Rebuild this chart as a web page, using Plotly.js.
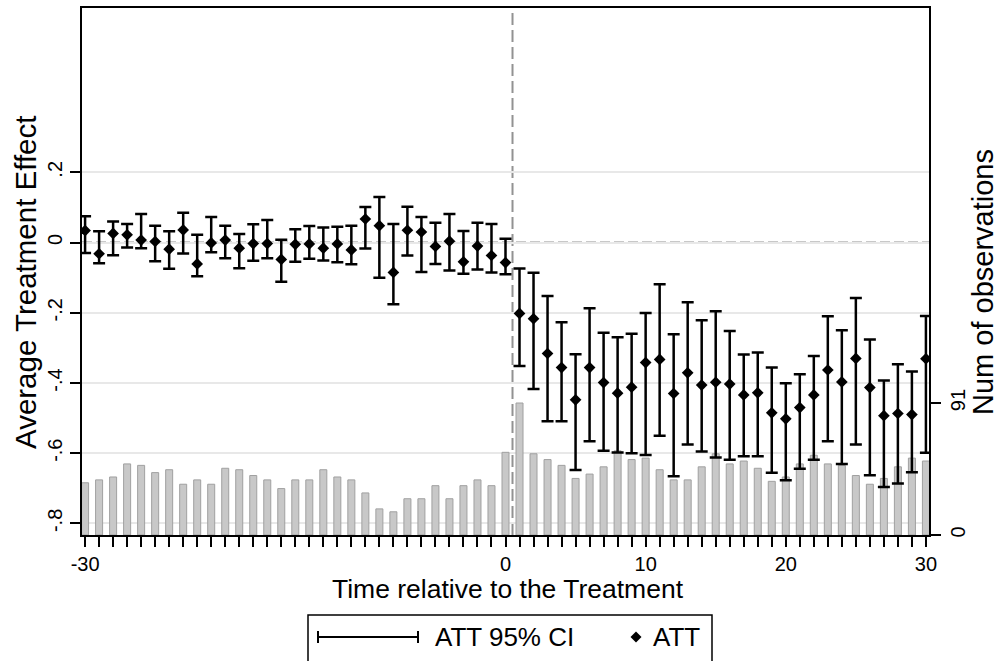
<!DOCTYPE html>
<html>
<head>
<meta charset="utf-8">
<script src="https://cdn.plot.ly/plotly-3.0.1.min.js"></script>
<style>html,body{margin:0;padding:0;background:#fff;}#chart{width:1000px;height:661px;}</style>
</head>
<body>
<div id="chart"></div>
<script>
// Time relative to the treatment
var periods = [-30,-29,-28,-27,-26,-25,-24,-23,-22,-21,-20,-19,-18,-17,-16,-15,-14,-13,-12,-11,-10,-9,-8,-7,-6,-5,-4,-3,-2,-1,0,1,2,3,4,5,6,7,8,9,10,11,12,13,14,15,16,17,18,19,20,21,22,23,24,25,26,27,28,29,30];
// Average treatment effect (point estimate)
var att = [0.034,-0.032,0.026,0.022,0.007,0.003,-0.019,0.036,-0.061,-0.001,0.007,-0.016,-0.003,-0.003,-0.048,-0.005,-0.004,-0.016,-0.004,-0.021,0.067,0.048,-0.085,0.035,0.030,-0.011,0.004,-0.055,-0.010,-0.037,-0.057,-0.202,-0.217,-0.316,-0.356,-0.448,-0.356,-0.399,-0.429,-0.412,-0.342,-0.333,-0.430,-0.371,-0.406,-0.398,-0.403,-0.434,-0.428,-0.485,-0.502,-0.470,-0.434,-0.363,-0.397,-0.330,-0.413,-0.493,-0.487,-0.490,-0.331];
// Upper bound of 95% CI
var ciHigh = [0.075,0.032,0.060,0.053,0.081,0.048,0.032,0.085,0.022,0.073,0.048,0.024,0.052,0.064,0.008,0.038,0.047,0.043,0.045,0.048,0.101,0.130,0.053,0.102,0.073,0.056,0.081,0.033,0.056,0.053,0.011,-0.074,-0.086,-0.152,-0.227,-0.318,-0.187,-0.257,-0.270,-0.260,-0.201,-0.119,-0.261,-0.170,-0.221,-0.196,-0.252,-0.319,-0.313,-0.356,-0.401,-0.375,-0.323,-0.210,-0.250,-0.158,-0.276,-0.393,-0.347,-0.367,-0.209];
// Lower bound of 95% CI
var ciLow = [-0.030,-0.059,-0.036,-0.014,-0.016,-0.053,-0.075,-0.031,-0.096,-0.028,-0.045,-0.073,-0.052,-0.045,-0.112,-0.055,-0.046,-0.051,-0.056,-0.062,-0.017,-0.100,-0.176,-0.037,-0.084,-0.061,-0.080,-0.089,-0.077,-0.085,-0.090,-0.352,-0.417,-0.509,-0.509,-0.648,-0.566,-0.593,-0.598,-0.600,-0.605,-0.550,-0.666,-0.575,-0.595,-0.612,-0.619,-0.609,-0.609,-0.656,-0.677,-0.644,-0.619,-0.566,-0.631,-0.575,-0.663,-0.696,-0.686,-0.654,-0.599];
// Number of observations
var nObs = [36,38,40,49,48,43,45,35,38,35,46,45,41,38,32,38,38,45,40,38,29,18,16,25,25,34,25,34,38,34,57,91,56,52,48,39,42,47,58,52,53,45,38,38,47,56,49,51,46,37,40,49,55,49,48,41,35,39,47,53,51];

// Tick labels
var xTickVals = [-30,-29,-28,-27,-26,-25,-24,-23,-22,-21,-20,-19,-18,-17,-16,-15,-14,-13,-12,-11,-10,-9,-8,-7,-6,-5,-4,-3,-2,-1,0,1,2,3,4,5,6,7,8,9,10,11,12,13,14,15,16,17,18,19,20,21,22,23,24,25,26,27,28,29,30];
var xTickText = ["-30","","","","","","","","","","","","","","","","","","","","","","","","","","","","","","0","","","","","","","","","","10","","","","","","","","","","20","","","","","","","","","","30"];
var yTickVals = [-0.8,-0.6,-0.4,-0.2,0,0.2];
var yTickText = ["-.8","-.6","-.4","-.2","0",".2"];
var y2TickVals = [0,91];
var y2TickText = ["0","91"];

var errPlus = att.map(function(v,i){return ciHigh[i]-v;});
var errMinus = att.map(function(v,i){return v-ciLow[i];});

var FONT = "Liberation Sans, Arial, sans-serif";

var traces = [
  {
    type: 'bar', x: periods, y: nObs, yaxis: 'y', width: 0.5,
    marker: {color: '#c8c8c8', line: {color: '#a0a0a0', width: 1}},
    showlegend: false, hoverinfo: 'x+y'
  },
  {
    type: 'scatter', mode: 'markers', x: periods, y: att, yaxis: 'y2',
    marker: {symbol: 'diamond', size: 9, color: '#000'},
    error_y: {type: 'data', symmetric: false, array: errPlus, arrayminus: errMinus,
              color: '#000', thickness: 2.5, width: 6},
    showlegend: false
  }
];

var L = 82, R = 929, T = 8, B = 535;
function px(x){return (x-L)/(R-L);}
function py(y){return (B-y)/(B-T);}

var legY = py(637);
var shapes = [
  {type:'line', xref:'paper', yref:'y2', x0:0, x1:1, y0:0, y1:0, layer:'below',
   line:{color:'#929292', width:2, dash:'10px,4px'}},
  {type:'line', xref:'x', yref:'paper', x0:0.5, x1:0.5, y0:0, y1:1, layer:'below',
   line:{color:'#929292', width:2, dash:'12px,5px'}},
  // legend box
  {type:'rect', xref:'paper', yref:'paper', x0:px(308), x1:px(712), y0:py(668), y1:py(615),
   line:{color:'#000', width:1.5}, fillcolor:'rgba(0,0,0,0)'},
  {type:'line', xref:'paper', yref:'paper', x0:px(318), x1:px(418), y0:legY, y1:legY, line:{color:'#000', width:2}},
  {type:'line', xref:'paper', yref:'paper', x0:px(318), x1:px(318), y0:py(631), y1:py(643), line:{color:'#000', width:2}},
  {type:'line', xref:'paper', yref:'paper', x0:px(418), x1:px(418), y0:py(631), y1:py(643), line:{color:'#000', width:2}},
  {type:'path', xref:'paper', yref:'paper',
   path:'M '+px(630.5)+','+legY+' L '+px(636)+','+py(631.5)+' L '+px(641.5)+','+legY+' L '+px(636)+','+py(642.5)+' Z',
   fillcolor:'#000', line:{color:'#000', width:0}}
];

var annotations = [
  {xref:'paper', yref:'paper', x:px(433), y:legY, xanchor:'left', yanchor:'middle', showarrow:false,
   text:'ATT 95% CI', font:{family:FONT, size:26, color:'#000'}},
  {xref:'paper', yref:'paper', x:px(651), y:legY, xanchor:'left', yanchor:'middle', showarrow:false,
   text:'ATT', font:{family:FONT, size:26, color:'#000'}},
  {xref:'paper', yref:'paper', x:px(508), y:py(589), xanchor:'center', yanchor:'middle', showarrow:false,
   text:'Time relative to the Treatment', font:{family:FONT, size:26.5, color:'#000'}},
  {xref:'paper', yref:'paper', x:px(25), y:py(283), xanchor:'center', yanchor:'middle', showarrow:false,
   textangle:-90, text:'Average Treatment Effect', font:{family:FONT, size:29.5, color:'#000'}},
  {xref:'paper', yref:'paper', x:px(983), y:py(282), xanchor:'center', yanchor:'middle', showarrow:false,
   textangle:-90, text:'Num of observations', font:{family:FONT, size:29, color:'#000'}}
];

var layout = {
  width: 1000, height: 661,
  margin: {l: L, r: 1000-R, t: T, b: 661-B, pad: 0},
  paper_bgcolor: '#fff', plot_bgcolor: '#fff',
  font: {family: FONT, color: '#000'},
  showlegend: false,
  bargap: 0,
  xaxis: {
    range: [-30.22, 30.22], tickmode: 'array', tickvals: xTickVals, ticktext: xTickText,
    ticks: 'outside', ticklen: 10, tickwidth: 2, tickcolor: '#000',
    showline: true, linecolor: '#000', linewidth: 2, mirror: true,
    showgrid: false, zeroline: false,
    tickfont: {size: 20, family: FONT}
  },
  yaxis: {
    side: 'right', range: [0, 363.3], tickmode: 'array', tickvals: y2TickVals, ticktext: y2TickText,
    ticks: 'outside', ticklen: 10, tickwidth: 2, tickcolor: '#000', tickangle: -90,
    showline: true, linecolor: '#000', linewidth: 2,
    showgrid: false, zeroline: false,
    tickfont: {size: 20, family: FONT}
  },
  yaxis2: {
    overlaying: 'y', side: 'left', range: [-0.833, 0.668], tickmode: 'array', tickvals: yTickVals, ticktext: yTickText,
    ticks: 'outside', ticklen: 10, tickwidth: 2, tickcolor: '#000', tickangle: -90,
    showline: true, linecolor: '#000', linewidth: 2,
    showgrid: true, gridcolor: '#e8e8e8', gridwidth: 2, zeroline: false,
    tickfont: {size: 20, family: FONT}
  },
  shapes: shapes,
  annotations: annotations
};

Plotly.newPlot('chart', traces, layout, {displayModeBar: false, staticPlot: true});
</script>
</body>
</html>
